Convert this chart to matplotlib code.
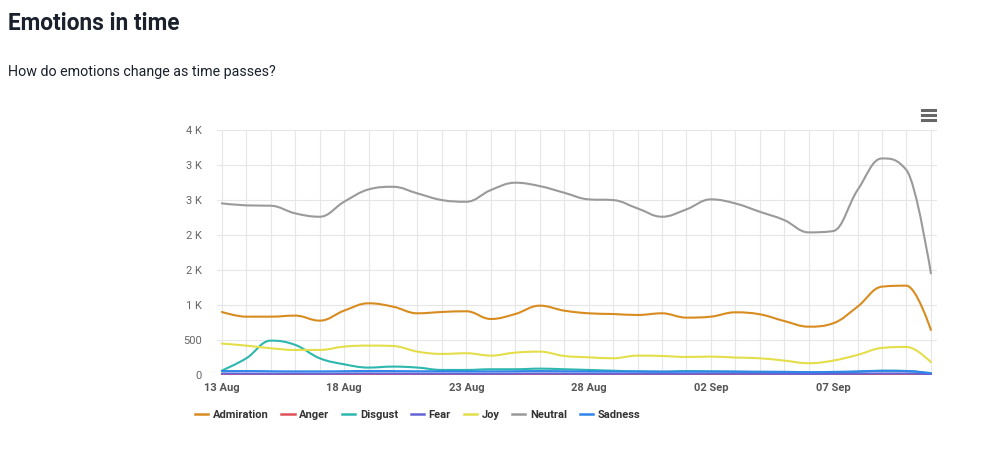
import matplotlib.pyplot as plt
from matplotlib.path import Path
from matplotlib.patches import PathPatch
from matplotlib.lines import Line2D
from matplotlib.ticker import FixedLocator, FixedFormatter
import numpy as np

plt.rcParams['font.family'] = ['Roboto', 'DejaVu Sans']

# Data: daily counts, 13 Aug .. 11 Sep
dates = ["13 Aug", "14 Aug", "15 Aug", "16 Aug", "17 Aug", "18 Aug", "19 Aug", "20 Aug",
         "21 Aug", "22 Aug", "23 Aug", "24 Aug", "25 Aug", "26 Aug", "27 Aug", "28 Aug",
         "29 Aug", "30 Aug", "31 Aug", "01 Sep", "02 Sep", "03 Sep", "04 Sep", "05 Sep",
         "06 Sep", "07 Sep", "08 Sep", "09 Sep", "10 Sep", "11 Sep"]

admiration = [900, 833, 833, 848, 776, 919, 1024, 976, 881, 900, 910, 800, 871, 990, 919,
              881, 871, 857, 881, 819, 833, 895, 867, 771, 690, 738, 976, 1262, 1276, 643]
anger = [8, 8, 7, 8, 7, 8, 9, 8, 7, 8, 7, 7, 8, 9, 8,
         7, 7, 8, 7, 7, 8, 8, 7, 7, 6, 7, 8, 9, 9, 5]
disgust = [62, 238, 490, 429, 238, 152, 105, 119, 105, 71, 71, 81, 81, 90, 81,
           71, 60, 50, 45, 55, 50, 45, 40, 35, 30, 35, 45, 60, 55, 20]
fear = [20, 19, 18, 19, 18, 20, 21, 20, 19, 19, 18, 18, 19, 20, 19,
        18, 18, 19, 18, 18, 19, 19, 18, 17, 16, 17, 19, 21, 21, 12]
joy = [448, 419, 381, 357, 357, 405, 419, 414, 333, 300, 310, 276, 319, 333, 271,
       252, 238, 276, 271, 257, 262, 248, 238, 205, 167, 205, 286, 386, 400, 181]
neutral = [2453, 2424, 2419, 2310, 2262, 2476, 2652, 2690, 2595, 2500, 2476, 2643, 2748, 2700, 2605,
           2510, 2500, 2381, 2262, 2367, 2510, 2452, 2333, 2214, 2038, 2057, 2643, 3095, 2929, 1452]
sadness = [55, 55, 52, 50, 50, 53, 56, 55, 52, 52, 50, 50, 52, 55, 52,
           50, 48, 50, 48, 47, 49, 48, 46, 44, 40, 43, 50, 58, 56, 25]

names = ["Admiration", "Anger", "Disgust", "Fear", "Joy", "Neutral", "Sadness"]
colors = ["#d88c1f", "#e0525a", "#2db7ae", "#6464d8", "#e3de4a", "#9a9a9a", "#2f85e8"]
series = [admiration, anger, disgust, fear, joy, neutral, sadness]

y_ticks = [0, 500, 1000, 1500, 2000, 2500, 3000, 3500]
y_labels = ["0", "500", "1 K", "2 K", "2 K", "3 K", "3 K", "4 K"]


def spline_path(xs, ys, smoothing=1.5):
    """Bezier path through the points, Highcharts-style spline."""
    denom = smoothing + 1
    n = len(xs)
    left = [None] * n
    right = [None] * n
    for i in range(1, n - 1):
        x, y = xs[i], ys[i]
        px, py = xs[i - 1], ys[i - 1]
        nx, ny = xs[i + 1], ys[i + 1]
        lcx = (smoothing * x + px) / denom
        lcy = (smoothing * y + py) / denom
        rcx = (smoothing * x + nx) / denom
        rcy = (smoothing * y + ny) / denom
        if rcx != lcx:
            corr = ((rcy - lcy) * (rcx - x)) / (rcx - lcx) + y - rcy
            lcy += corr
            rcy += corr
        if lcy > max(py, y):
            lcy = max(py, y)
            rcy = 2 * y - lcy
        elif lcy < min(py, y):
            lcy = min(py, y)
            rcy = 2 * y - lcy
        if rcy > max(ny, y):
            rcy = max(ny, y)
            lcy = 2 * y - rcy
        elif rcy < min(ny, y):
            rcy = min(ny, y)
            lcy = 2 * y - rcy
        left[i] = (lcx, lcy)
        right[i] = (rcx, rcy)
    verts = [(xs[0], ys[0])]
    codes = [Path.MOVETO]
    for i in range(1, n):
        c1 = right[i - 1] if right[i - 1] else (xs[i - 1], ys[i - 1])
        c2 = left[i] if left[i] else (xs[i], ys[i])
        verts += [c1, c2, (xs[i], ys[i])]
        codes += [Path.CURVE4] * 3
    return Path(verts, codes)


fig = plt.figure(figsize=(10, 4.55), dpi=100)
fig.text(0.008, 0.948, "Emotions in time", fontsize=16.3, fontweight="bold",
         color="#1a202c", va="center", ha="left")
fig.text(0.008, 0.842, "How do emotions change as time passes?", fontsize=10.3,
         color="#1a202c", va="center", ha="left")

ax = fig.add_axes([0.217, 0.176, 0.72, 0.538])
x = np.arange(len(dates))

# draw order: later series on top, sadness/fear near the bottom end up visible
order = [5, 0, 4, 2, 1, 6, 3]
for k in order:
    patch = PathPatch(spline_path(x, series[k]), facecolor="none",
                      edgecolor=colors[k], lw=1.5, zorder=3 + k * 0.01,
                      capstyle="round", joinstyle="round")
    ax.add_patch(patch)

ax.set_xlim(-0.2, 29.25)
ax.set_ylim(0, 3500)

ax.yaxis.set_major_locator(FixedLocator(y_ticks))
ax.yaxis.set_major_formatter(FixedFormatter(y_labels))
ax.set_xticks(x, minor=True)
ax.set_xticks(x[::5])
ax.set_xticklabels(dates[::5])

ax.grid(True, which="both", axis="x", color="#e6e6e6", lw=0.8)
ax.grid(True, which="major", axis="y", color="#e6e6e6", lw=0.8)
ax.set_axisbelow(True)
for s in ax.spines.values():
    s.set_visible(False)
ax.tick_params(axis="both", which="both", length=0)
ax.tick_params(axis="y", labelsize=8, labelcolor="#666666", pad=11)
ax.tick_params(axis="x", labelsize=8, labelcolor="#555555", pad=6)
for lab in ax.get_xticklabels():
    lab.set_fontweight("bold")

handles = [Line2D([0], [0], color=c, lw=1.8) for c in colors]
leg = fig.legend(handles, names, loc="center left", bbox_to_anchor=(0.185, 0.088),
                 ncol=7, frameon=False, fontsize=8, handlelength=1.2,
                 handletextpad=0.4, columnspacing=1.15, labelcolor="#333333")
for t in leg.get_texts():
    t.set_fontweight("bold")

# menu icon
for dy in (0.737, 0.748, 0.759):
    fig.add_artist(Line2D([0.922, 0.935], [dy, dy], color="#666666", lw=2.2))

fig.savefig("out.png", dpi=100)
